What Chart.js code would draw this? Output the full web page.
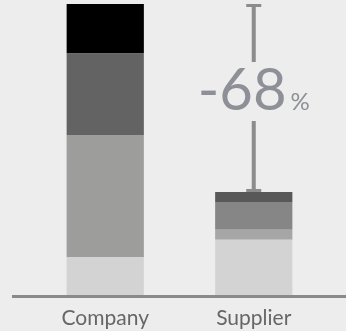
<!DOCTYPE html>
<html>
<head>
<meta charset="utf-8">
<script src="https://cdn.jsdelivr.net/npm/chart.js@4"></script>
<style>
  html, body { margin: 0; padding: 0; background: #ededed; }
  #wrap { width: 346px; height: 331px; }
</style>
</head>
<body>
<div id="wrap"><canvas id="chart"></canvas></div>
<script>
const categories = ['Company', 'Supplier'];
// stacked segments, bottom to top
const seg1 = [13, 19];
const seg2 = [42, 3.4];
const seg3 = [28, 9.6];
const seg4 = [17, 3.4];
const changeLabel = '-68';

const colors1 = ['#d3d3d3', '#d3d3d3'];
const colors2 = ['#9d9d9c', '#a6a6a6'];
const colors3 = ['#636363', '#868686'];
const colors4 = ['#000000', '#585858'];

const totals = categories.map((c, i) => seg1[i] + seg2[i] + seg3[i] + seg4[i]);

const ds = (data, bg) => ({ data, backgroundColor: bg, borderWidth: 0, barPercentage: 0.52, categoryPercentage: 1 });

// baseline across full width + change marker over the supplier bar
const extras = {
  id: 'extras',
  afterDatasetsDraw(chart) {
    const { ctx, scales: { x, y } } = chart;
    ctx.save();
    const y0 = y.getPixelForValue(0);
    ctx.fillStyle = '#8a8a8a';
    ctx.fillRect(12, y0, chart.width - 12, 3);

    const cx = x.getPixelForValue(1);
    const yTop = y.getPixelForValue(totals[0]);
    const yBot = y.getPixelForValue(totals[1]);
    ctx.fillStyle = '#8c8c8c';
    ctx.fillRect(cx - 7.5, yTop, 15, 3);
    ctx.fillRect(cx - 7.5, yBot - 3, 15, 3);
    const gapTop = yTop + 58, gapBot = yTop + 117;
    ctx.fillRect(cx - 2, yTop, 4, gapTop - yTop);
    ctx.fillRect(cx - 2, gapBot, 4, yBot - gapBot);

    ctx.fillStyle = '#8e9097';
    ctx.textBaseline = 'alphabetic';
    ctx.font = '58px Lato';
    const w1 = ctx.measureText(changeLabel).width;
    ctx.font = '24px Lato';
    const w2 = ctx.measureText('%').width;
    const start = cx - (w1 + 4 + w2) / 2;
    ctx.font = '58px Lato';
    ctx.textAlign = 'left';
    ctx.fillText(changeLabel, start, yTop + 106);
    ctx.font = '24px Lato';
    ctx.fillText('%', start + w1 + 4, yTop + 106);
    ctx.restore();
  }
};

new Chart(document.getElementById('chart'), {
  type: 'bar',
  data: {
    labels: categories,
    datasets: [ds(seg1, colors1), ds(seg2, colors2), ds(seg3, colors3), ds(seg4, colors4)]
  },
  options: {
    responsive: true,
    maintainAspectRatio: false,
    animation: false,
    layout: { padding: { top: 4, left: 31, right: 18, bottom: 0 } },
    plugins: { legend: { display: false }, tooltip: { enabled: false } },
    scales: {
      x: {
        stacked: true,
        grid: { display: false, drawTicks: false },
        border: { display: false },
        ticks: { color: '#666666', font: { family: 'Lato', size: 21 }, padding: 11 },
        afterFit(scale) { scale.height = 36; }
      },
      y: {
        stacked: true,
        display: false,
        min: 0,
        max: totals[0]
      }
    }
  },
  plugins: [extras]
});
</script>
</body>
</html>
